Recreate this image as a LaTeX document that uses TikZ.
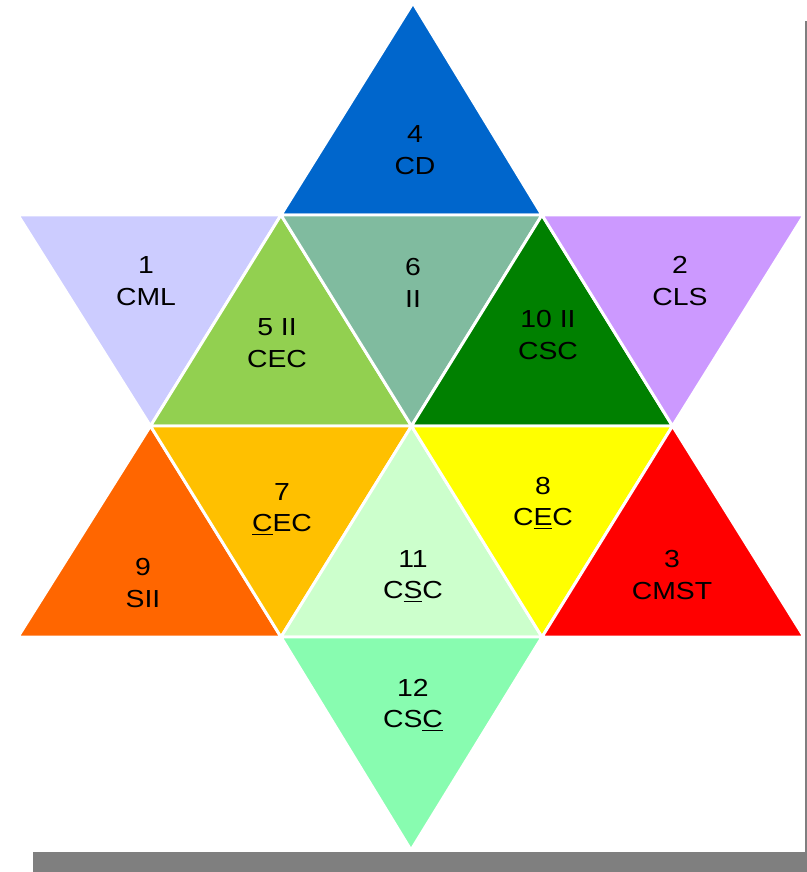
\documentclass[tikz,border=0pt]{standalone}
\usepackage{fontspec}
\setmainfont[FakeStretch=1.15]{Liberation Sans}
\definecolor{cfour}{HTML}{0066CC}
\definecolor{cone}{HTML}{CCCCFF}
\definecolor{cfive}{HTML}{92D050}
\definecolor{csix}{HTML}{80BB9F}
\definecolor{cten}{HTML}{008000}
\definecolor{ctwo}{HTML}{CC99FF}
\definecolor{cnine}{HTML}{FF6600}
\definecolor{cseven}{HTML}{FFC000}
\definecolor{celeven}{HTML}{CCFFCC}
\definecolor{ceight}{HTML}{FFFF00}
\definecolor{cthree}{HTML}{FF0000}
\definecolor{ctwelve}{HTML}{88FCB0}
\definecolor{barg}{HTML}{7F7F7F}
\begin{document}
\begin{tikzpicture}[x=0.75pt,y=-0.75pt,
  tri/.style={draw=white,line width=2.2pt,line join=miter},
  lab/.style={align=center,inner sep=0pt,text=black,font=\fontsize{18.5}{23.5}\selectfont}]
\useasboundingbox (0,0) rectangle (807,872);
% lattice points
\coordinate (T) at (413,3);
\coordinate (a1) at (18,215);
\coordinate (b1) at (281,215);
\coordinate (c1) at (542,215);
\coordinate (d1) at (804,215);
\coordinate (a2) at (150.5,426);
\coordinate (b2) at (411.5,426);
\coordinate (c2) at (672.5,426);
\coordinate (a3) at (18,637);
\coordinate (b3) at (281,637);
\coordinate (c3) at (542,637);
\coordinate (d3) at (804,637);
\coordinate (B) at (411,850);
% triangles
\fill[cfour]   (T) -- (b1) -- (c1) -- cycle;
\draw[tri]     (T) -- (b1) -- (c1) -- cycle;
\fill[cone]    (a1) -- (b1) -- (a2) -- cycle;
\draw[tri]     (a1) -- (b1) -- (a2) -- cycle;
\fill[cfive]   (b1) -- (a2) -- (b2) -- cycle;
\draw[tri]     (b1) -- (a2) -- (b2) -- cycle;
\fill[csix]    (b1) -- (c1) -- (b2) -- cycle;
\draw[tri]     (b1) -- (c1) -- (b2) -- cycle;
\fill[cten]    (c1) -- (b2) -- (c2) -- cycle;
\draw[tri]     (c1) -- (b2) -- (c2) -- cycle;
\fill[ctwo]    (c1) -- (d1) -- (c2) -- cycle;
\draw[tri]     (c1) -- (d1) -- (c2) -- cycle;
\fill[cnine]   (a2) -- (a3) -- (b3) -- cycle;
\draw[tri]     (a2) -- (a3) -- (b3) -- cycle;
\fill[cseven]  (a2) -- (b2) -- (b3) -- cycle;
\draw[tri]     (a2) -- (b2) -- (b3) -- cycle;
\fill[celeven] (b2) -- (b3) -- (c3) -- cycle;
\draw[tri]     (b2) -- (b3) -- (c3) -- cycle;
\fill[ceight]  (b2) -- (c2) -- (c3) -- cycle;
\draw[tri]     (b2) -- (c2) -- (c3) -- cycle;
\fill[cthree]  (c2) -- (c3) -- (d3) -- cycle;
\draw[tri]     (c2) -- (c3) -- (d3) -- cycle;
\fill[ctwelve] (b3) -- (c3) -- (B) -- cycle;
\draw[tri]     (b3) -- (c3) -- (B) -- cycle;
% frame pieces
\fill[barg] (33,852) rectangle (807,872);
\fill[barg] (805,21) rectangle (807,852);
% labels
\node[lab] (n4)  at (415,150) {4\\CD};
\node[lab] (n1)  at (146,281) {1\\CML};
\node[lab] (n6)  at (413,283) {6\\II};
\node[lab] (n2)  at (680,281) {2\\CLS};
\node[lab] (n5)  at (277,343) {5 II\\CEC};
\node[lab] (n10) at (548,335) {10 II\\CSC};
\node[lab] (n7)  at (282,509) {7\\\underline{C}EC};
\node[lab] (n8)  at (543,503) {8\\C\underline{E}C};
\node[lab] (n9)  at (143,583) {9\\SII};
\node[lab] (n11) at (413,576) {11\\C\underline{S}C};
\node[lab] (n3)  at (672,575) {3\\CMST};
\node[lab] (n12) at (413,705) {12\\CS\underline{C}};
\end{tikzpicture}
\end{document}
